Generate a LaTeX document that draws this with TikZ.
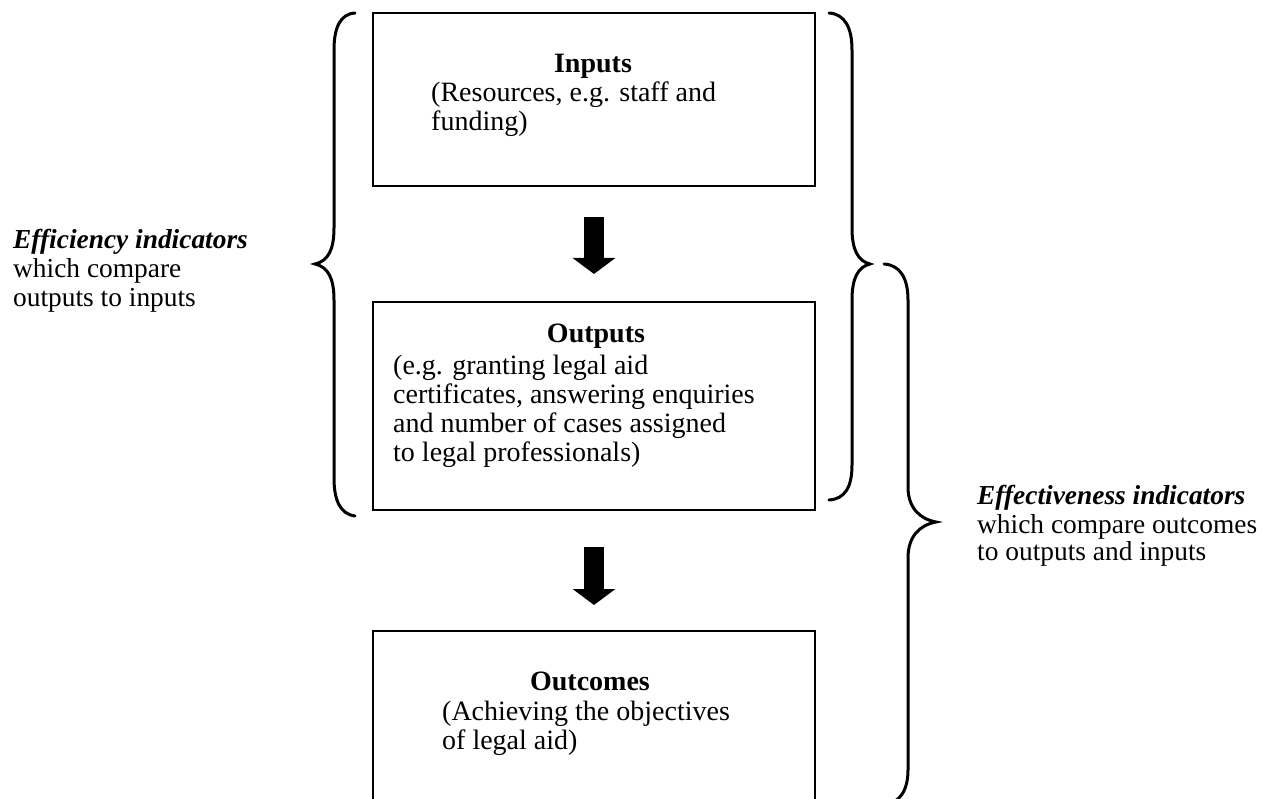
\documentclass[tikz,border=0pt]{standalone}
\usepackage{fontspec}
\setmainfont{Liberation Serif}
\usetikzlibrary{arrows.meta}
\begin{document}
\begin{tikzpicture}[x=1pt,y=-1pt,
  box/.style={draw, line width=2pt, inner sep=0pt},
  body/.style={anchor=base west, inner sep=0pt, font=\fontsize{28}{29}\selectfont},
  title/.style={anchor=base, inner sep=0pt, font=\fontsize{28}{29}\selectfont\bfseries},
  side/.style={anchor=base west, inner sep=0pt, font=\fontsize{27.4}{29}\selectfont},
  brace/.style={line width=3pt, line cap=round},
  blockarrow/.style={line width=20pt, -{Triangle[width=42pt,length=16pt]}}]
\useasboundingbox (0,0) rectangle (1262,799);
\clip (0,0) rectangle (1262,799);
% boxes
\node[box, minimum width=442pt, minimum height=173pt] (inputs) at (594,99.5) {};
\node[box, minimum width=442pt, minimum height=208pt] (outputs) at (594,406) {};
\node[box, minimum width=442pt, minimum height=199pt] (outcomes) at (594,730.5) {};
% block arrows
\draw[blockarrow, shorten <=30pt, shorten >=27pt] (inputs) -- (outputs);
\draw[blockarrow, shorten <=36pt, shorten >=25pt] (outputs) -- (outcomes);
% texts in boxes
\node[title] (tin) at (593,73) {Inputs};
\node[body] (bin1) at (431,102) {(Resources, e.g. staff and};
\node[body] (bin2) at (431,131) {funding)};
\node[title] (tout) at (596,343) {Outputs};
\node[body] (bout1) at (393,375) {(e.g. granting legal aid};
\node[body] (bout2) at (393,404) {certificates, answering enquiries};
\node[body] (bout3) at (393,433) {and number of cases assigned};
\node[body] (bout4) at (393,462) {to legal professionals)};
\node[title] (tocm) at (590,690) {Outcomes};
\node[body] (bocm1) at (442,720) {(Achieving the objectives};
\node[body] (bocm2) at (442,749) {of legal aid)};
% side labels
\node[side] (eff1) at (13,249) {\textbf{\textit{Efficiency indicators}}};
\node[side] (eff2) at (13,278) {which compare};
\node[side] (eff3) at (13,307) {outputs to inputs};
\node[side] (efv1) at (977,505) {\textbf{\textit{Effectiveness indicators}}};
\node[side] (efv2) at (977,533) {which compare outcomes};
\node[side] (efv3) at (977,561) {to outputs and inputs};
% braces
\draw[brace] (355,13) .. controls (340,14) and (334,28) .. (334,50) -- (334,228)
  .. controls (334,250) and (328,261) .. (315,264)
  .. controls (328,267) and (334,278) .. (334,300) -- (334,478)
  .. controls (334,500) and (340,514) .. (355,516);
\draw[brace] (829,13) .. controls (845,14) and (852,28) .. (852,50) -- (852,228)
  .. controls (852,250) and (858,261) .. (870,264)
  .. controls (858,267) and (852,278) .. (852,300) -- (852,465)
  .. controls (852,487) and (845,499) .. (829,500);
\draw[brace] (884,264) .. controls (900,265) and (908,278) .. (908,300) -- (908,487)
  .. controls (908,508) and (920,519) .. (936,522)
  .. controls (920,525) and (908,536) .. (908,558) -- (908,770)
  .. controls (908,790) and (900,803) .. (884,805);
\end{tikzpicture}
\end{document}
